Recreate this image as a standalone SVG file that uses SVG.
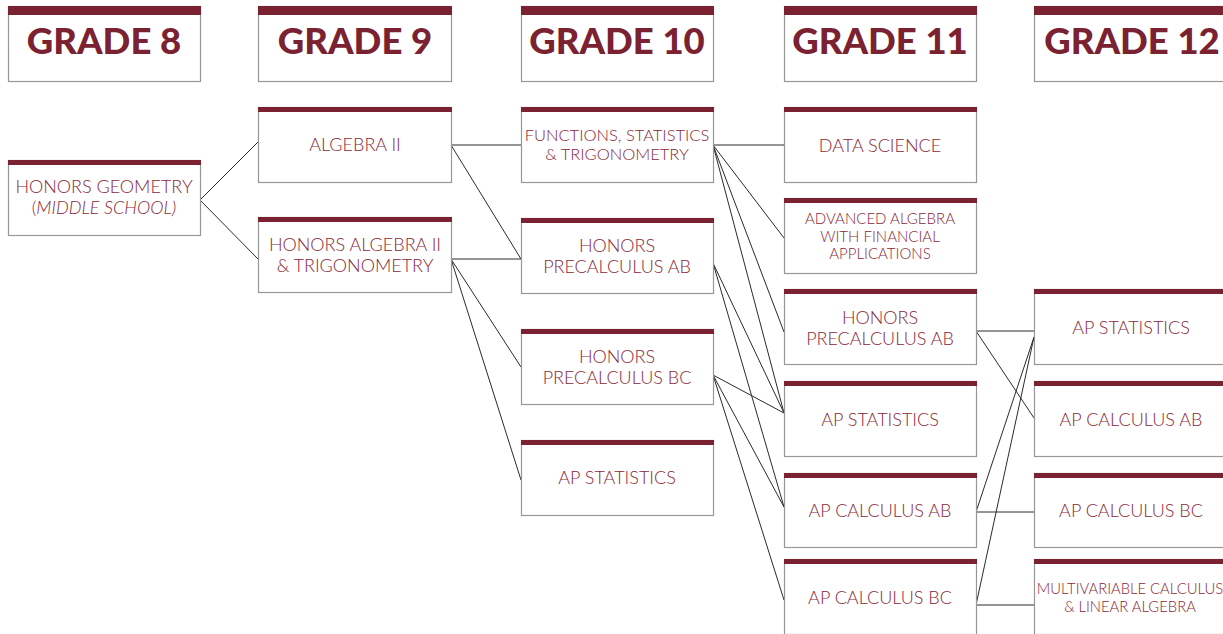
<svg xmlns="http://www.w3.org/2000/svg" width="1223" height="634" viewBox="0 0 1223 634">
<style>
.box{fill:#fff;stroke:#979797;stroke-width:1.2}
.bar{fill:#7a2231}
.hd{font-family:Lato,"Liberation Sans",sans-serif;font-weight:900;font-size:36.5px;fill:#7a2231;text-anchor:middle}
.t{font-family:Lato,"Liberation Sans",sans-serif;font-weight:300;font-size:18px;fill:#88283a;text-anchor:middle}
.s{font-size:16.5px}
.xs{font-size:15px}
.xs2{font-size:14.8px}
.c line{stroke:#2a2a2a;stroke-width:1}
</style>
<rect width="1223" height="634" fill="#fff"/>
<g id="connectors" class="c">
<line x1="200" y1="200" x2="258" y2="142"/>
<line x1="200" y1="200" x2="258" y2="259"/>
<line x1="451" y1="145" x2="521" y2="145"/>
<line x1="451" y1="145" x2="521" y2="259"/>
<line x1="451" y1="259" x2="521" y2="259"/>
<line x1="451" y1="259" x2="521" y2="367"/>
<line x1="451" y1="259" x2="521" y2="480"/>
<line x1="713" y1="145" x2="784" y2="145"/>
<line x1="713" y1="145" x2="784" y2="238"/>
<line x1="713" y1="145" x2="784" y2="332"/>
<line x1="713" y1="145" x2="784" y2="413"/>
<line x1="713" y1="263" x2="784" y2="413"/>
<line x1="713" y1="263" x2="784" y2="507"/>
<line x1="713" y1="375" x2="784" y2="413"/>
<line x1="713" y1="375" x2="784" y2="507"/>
<line x1="713" y1="375" x2="784" y2="600"/>
<line x1="976" y1="331" x2="1034" y2="331"/>
<line x1="976" y1="331" x2="1034" y2="418"/>
<line x1="976" y1="512" x2="1034" y2="512"/>
<line x1="976" y1="512" x2="1034" y2="337"/>
<line x1="976" y1="605" x2="1034" y2="605"/>
<line x1="976" y1="605" x2="1034" y2="337"/>
</g>
<g id="h8"><rect class="box" x="8.5" y="6.5" width="192" height="75"/><rect class="bar" x="8" y="6" width="193" height="9"/><text class="hd" x="104" y="54">GRADE 8</text></g>
<g id="h9"><rect class="box" x="258.5" y="6.5" width="193" height="75"/><rect class="bar" x="258" y="6" width="194" height="9"/><text class="hd" x="355" y="54">GRADE 9</text></g>
<g id="h10"><rect class="box" x="521.5" y="6.5" width="192" height="75"/><rect class="bar" x="521" y="6" width="193" height="9"/><text class="hd" x="617" y="54">GRADE 10</text></g>
<g id="h11"><rect class="box" x="784.5" y="6.5" width="192" height="75"/><rect class="bar" x="784" y="6" width="193" height="9"/><text class="hd" x="880" y="54">GRADE 11</text></g>
<g id="h12"><rect class="box" x="1034.5" y="6.5" width="192" height="75"/><rect class="bar" x="1034" y="6" width="193" height="9"/><text class="hd" x="1132" y="54">GRADE 12</text></g>

<g id="g8-hgeo"><rect class="box" x="8.5" y="160.5" width="192" height="75"/><rect class="bar" x="8" y="160" width="193" height="5"/><text class="t" x="104" y="193">HONORS GEOMETRY</text><text class="t" x="104" y="214">(<tspan font-style="italic">MIDDLE SCHOOL)</tspan></text></g>

<g id="g9-alg2"><rect class="box" x="258.5" y="107.5" width="193" height="75"/><rect class="bar" x="258" y="107" width="194" height="5"/><text class="t" x="355" y="151">ALGEBRA II</text></g>
<g id="g9-halg2"><rect class="box" x="258.5" y="217.5" width="193" height="75"/><rect class="bar" x="258" y="217" width="194" height="5"/><text class="t" x="355" y="251">HONORS ALGEBRA II</text><text class="t" x="355" y="272">&amp; TRIGONOMETRY</text></g>

<g id="g10-fst"><rect class="box" x="521.5" y="107.5" width="192" height="75"/><rect class="bar" x="521" y="107" width="193" height="5"/><text class="t s" x="617" y="141">FUNCTIONS, STATISTICS</text><text class="t s" x="617" y="160">&amp; TRIGONOMETRY</text></g>
<g id="g10-hpab"><rect class="box" x="521.5" y="218.5" width="192" height="75"/><rect class="bar" x="521" y="218" width="193" height="5"/><text class="t" x="617" y="252">HONORS</text><text class="t" x="617" y="273">PRECALCULUS AB</text></g>
<g id="g10-hpbc"><rect class="box" x="521.5" y="329.5" width="192" height="75"/><rect class="bar" x="521" y="329" width="193" height="5"/><text class="t" x="617" y="363">HONORS</text><text class="t" x="617" y="384">PRECALCULUS BC</text></g>
<g id="g10-apstat"><rect class="box" x="521.5" y="440.5" width="192" height="75"/><rect class="bar" x="521" y="440" width="193" height="5"/><text class="t" x="617" y="484">AP STATISTICS</text></g>

<g id="g11-ds"><rect class="box" x="784.5" y="107.5" width="192" height="75"/><rect class="bar" x="784" y="107" width="193" height="5"/><text class="t" x="880" y="152">DATA SCIENCE</text></g>
<g id="g11-adv"><rect class="box" x="784.5" y="198.5" width="192" height="75"/><rect class="bar" x="784" y="198" width="193" height="5"/><text class="t xs" x="880" y="224">ADVANCED ALGEBRA</text><text class="t xs" x="880" y="242">WITH FINANCIAL</text><text class="t xs" x="880" y="259">APPLICATIONS</text></g>
<g id="g11-hpab"><rect class="box" x="784.5" y="289.5" width="192" height="75"/><rect class="bar" x="784" y="289" width="193" height="5"/><text class="t" x="880" y="324">HONORS</text><text class="t" x="880" y="345">PRECALCULUS AB</text></g>
<g id="g11-apstat"><rect class="box" x="784.5" y="381.5" width="192" height="75"/><rect class="bar" x="784" y="381" width="193" height="5"/><text class="t" x="880" y="426">AP STATISTICS</text></g>
<g id="g11-apcab"><rect class="box" x="784.5" y="473.5" width="192" height="74"/><rect class="bar" x="784" y="473" width="193" height="5"/><text class="t" x="880" y="517">AP CALCULUS AB</text></g>
<g id="g11-apcbc"><rect class="box" x="784.5" y="559.5" width="192" height="75"/><rect class="bar" x="784" y="559" width="193" height="5"/><text class="t" x="880" y="604">AP CALCULUS BC</text></g>

<g id="g12-apstat"><rect class="box" x="1034.5" y="289.5" width="192" height="75"/><rect class="bar" x="1034" y="289" width="193" height="5"/><text class="t" x="1131" y="334">AP STATISTICS</text></g>
<g id="g12-apcab"><rect class="box" x="1034.5" y="381.5" width="192" height="75"/><rect class="bar" x="1034" y="381" width="193" height="5"/><text class="t" x="1131" y="426">AP CALCULUS AB</text></g>
<g id="g12-apcbc"><rect class="box" x="1034.5" y="473.5" width="192" height="74"/><rect class="bar" x="1034" y="473" width="193" height="5"/><text class="t" x="1131" y="517">AP CALCULUS BC</text></g>
<g id="g12-mv"><rect class="box" x="1034.5" y="559.5" width="192" height="75"/><rect class="bar" x="1034" y="559" width="193" height="5"/><text class="t xs2" x="1130" y="594">MULTIVARIABLE CALCULUS</text><text class="t xs2" x="1130" y="612">&amp; LINEAR ALGEBRA</text></g>
</svg>
